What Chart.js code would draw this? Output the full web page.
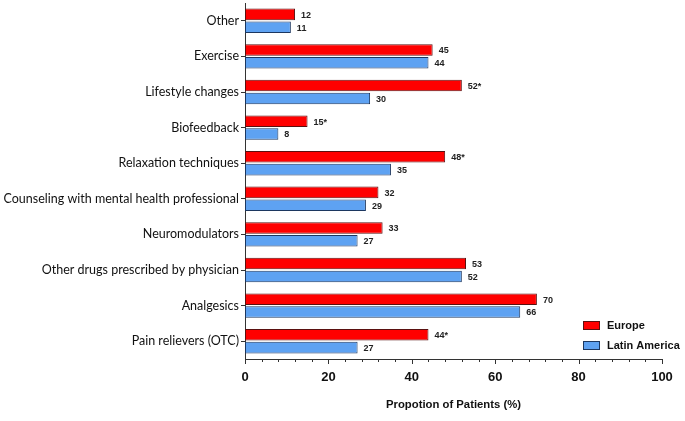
<!DOCTYPE html>
<html>
<head>
<meta charset="utf-8">
<script src="https://cdn.jsdelivr.net/npm/chart.js@4.4.0/dist/chart.umd.min.js"></script>
<style>
  body { margin: 0; background: #fff; }
  #wrap { width: 685px; height: 421px; }
</style>
</head>
<body>
<div id="wrap"><canvas id="treatChart" width="685" height="421"></canvas></div>
<script>
// data, top to bottom
const categories = ['Other', 'Exercise', 'Lifestyle changes', 'Biofeedback', 'Relaxation techniques',
    'Counseling with mental health professional', 'Neuromodulators', 'Other drugs prescribed by physician',
    'Analgesics', 'Pain relievers (OTC)'];
const europe = [12, 45, 52, 15, 48, 32, 33, 53, 70, 44];
const europeNotes = ['', '', '*', '*', '*', '', '', '', '', '*'];
const latinAmerica = [11, 44, 30, 8, 35, 29, 27, 52, 66, 27];
const latinNotes = ['', '', '', '', '', '', '', '', '', ''];
const xTicks = [0, 20, 40, 60, 80, 100];

const boldFont = '"Liberation Sans", Arial, sans-serif';

// value labels at the end of each bar
const valueLabels = {
    id: 'valueLabels',
    afterDatasetsDraw(chart) {
        const ctx = chart.ctx;
        ctx.save();
        ctx.font = 'bold 9px ' + boldFont;
        ctx.fillStyle = '#222';
        ctx.textBaseline = 'middle';
        ctx.textAlign = 'left';
        chart.data.datasets.forEach((ds, i) => {
            const meta = chart.getDatasetMeta(i);
            meta.data.forEach((bar, j) => {
                ctx.fillText(ds.data[j] + ds.notes[j], bar.x + 6, bar.y + 1);
            });
        });
        ctx.restore();
    }
};

// x axis tick marks: long at labelled values, short in between
const axisTicks = {
    id: 'axisTicks',
    afterDraw(chart) {
        const ctx = chart.ctx;
        const x = chart.scales.x;
        const y0 = chart.chartArea.bottom;
        ctx.save();
        ctx.strokeStyle = '#333';
        ctx.lineWidth = 1;
        for (let v = x.min; v <= x.max; v += 4) {
            const px = Math.round(x.getPixelForValue(v)) + 0.5;
            const len = xTicks.includes(v) ? 5 : 3;
            ctx.beginPath();
            ctx.moveTo(px, y0);
            ctx.lineTo(px, y0 + len);
            ctx.stroke();
        }
        ctx.restore();
    }
};

// legend in the lower right corner of the plot
const cornerLegend = {
    id: 'cornerLegend',
    afterDraw(chart) {
        const ctx = chart.ctx;
        const left = chart.chartArea.right - 79;
        let top = chart.chartArea.bottom - 38;
        ctx.save();
        ctx.font = 'bold 11px ' + boldFont;
        ctx.textBaseline = 'middle';
        chart.data.datasets.forEach(ds => {
            ctx.fillStyle = ds.backgroundColor;
            ctx.strokeStyle = ds.borderColor;
            ctx.lineWidth = 1;
            ctx.fillRect(left + 0.5, top + 0.5, 16, 8);
            ctx.strokeRect(left + 0.5, top + 0.5, 16, 8);
            ctx.fillStyle = '#111';
            ctx.fillText(ds.label, left + 24, top + 5);
            top += 20;
        });
        ctx.restore();
    }
};

new Chart(document.getElementById('treatChart'), {
    type: 'bar',
    data: {
        labels: categories,
        datasets: [{
            label: 'Europe',
            data: europe,
            notes: europeNotes,
            backgroundColor: '#ff0000',
            borderColor: '#5a1010',
            borderWidth: 1,
            borderSkipped: false,
            categoryPercentage: 0.72,
            barPercentage: 0.9
        }, {
            label: 'Latin America',
            data: latinAmerica,
            notes: latinNotes,
            backgroundColor: '#5ea2f2',
            borderColor: '#1c3760',
            borderWidth: 1,
            borderSkipped: false,
            categoryPercentage: 0.72,
            barPercentage: 0.9
        }]
    },
    options: {
        indexAxis: 'y',
        responsive: false,
        animation: false,
        layout: { padding: { top: 3, right: 23, left: 0, bottom: 0 } },
        plugins: {
            legend: { display: false },
            tooltip: { enabled: false }
        },
        scales: {
            x: {
                min: 0,
                max: 100,
                afterFit: scale => { scale.height = 62; },
                afterBuildTicks: scale => {
                    scale.ticks = xTicks.map(v => ({ value: v }));
                },
                grid: { display: false, drawTicks: false },
                border: { display: true, color: '#333', width: 1 },
                ticks: {
                    color: '#111',
                    padding: 11,
                    maxRotation: 0,
                    autoSkip: false,
                    font: { family: boldFont, size: 13, weight: 'bold' }
                },
                title: {
                    display: true,
                    text: 'Propotion of Patients (%)',
                    color: '#111',
                    padding: { top: 0, bottom: 9 },
                    font: { family: boldFont, size: 11.3, weight: 'bold' }
                }
            },
            y: {
                afterFit: scale => {
                    scale.width = 245;
                    scale.paddingTop = 0;
                    scale.paddingBottom = 0;
                },
                grid: { offset: false, drawOnChartArea: false, tickLength: 4, color: '#333' },
                border: { display: true, color: '#333', width: 1 },
                ticks: {
                    color: '#111',
                    padding: 2,
                    autoSkip: false,
                    font: { family: 'Lato, "Open Sans", sans-serif', size: 12.5 }
                }
            }
        }
    },
    plugins: [valueLabels, axisTicks, cornerLegend]
});
</script>
</body>
</html>
